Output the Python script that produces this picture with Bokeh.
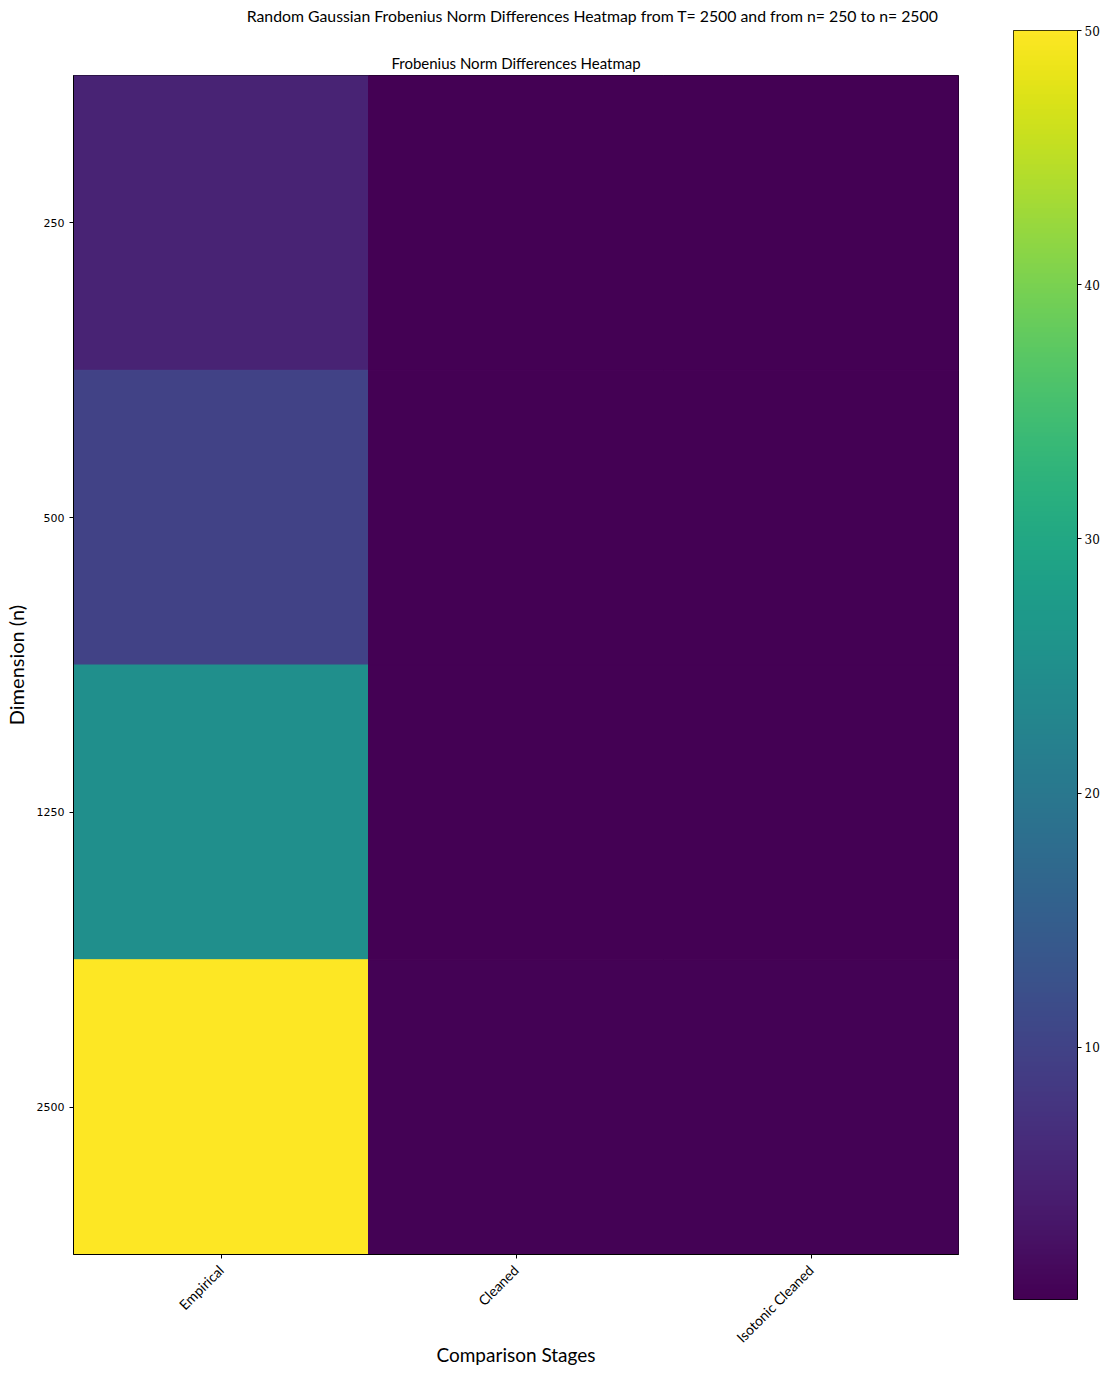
import numpy as np
from bokeh.plotting import figure
from bokeh.layouts import row, column
from bokeh.models import (FactorRange, Range1d, LinearColorMapper, Title,
                          FixedTicker, LinearAxis, ColumnDataSource)
from bokeh.core.properties import value
from bokeh.palettes import Viridis256
from bokeh.embed import file_html
from bokeh.resources import INLINE

# ---- data ----
stages = ["Empirical", "Cleaned", "Isotonic Cleaned"]
dims = ["250", "500", "1250", "2500"]
empirical = [5.0, 10.0, 25.0, 50.0]
cleaned = [0.08, 0.12, 0.2, 0.3]
isotonic = [0.08, 0.12, 0.2, 0.3]
cbar_ticks = [10, 20, 30, 40, 50]
suptitle = "Random Gaussian Frobenius Norm Differences Heatmap from T= 2500 and from n= 250 to n= 2500"
subtitle = "Frobenius Norm Differences Heatmap"

vals = {"Empirical": empirical, "Cleaned": cleaned, "Isotonic Cleaned": isotonic}
xs, ys, vs = [], [], []
for s in stages:
    for d, v in zip(dims, vals[s]):
        xs.append(s); ys.append(d); vs.append(v)
src = ColumnDataSource(dict(x=xs, y=ys, v=vs))

vmin = min(vs); vmax = max(vs)
mapper = LinearColorMapper(palette=Viridis256, low=vmin, high=vmax)

SANS = "Lato"

# ---- suptitle strip ----
t = figure(width=995, height=31, output_backend="svg", toolbar_location=None,
           x_range=Range1d(0, 995), y_range=Range1d(0, 31), min_border=0)
t.frame_width = 995
t.frame_height = 31
t.frame_align = False
t.axis.visible = False
t.grid.visible = False
t.outline_line_color = None
t.text(x=[592], y=[16], text=[suptitle], text_align="center", text_baseline="middle",
       text_font=value(SANS), text_font_size="15.8px", text_color="black")

# ---- heatmap ----
p = figure(width=995, height=1330, output_backend="svg", toolbar_location=None,
           x_range=FactorRange(*stages), y_range=FactorRange(*reversed(dims)),
           min_border_left=67, min_border_top=44, min_border_right=44, min_border_bottom=60)
p.frame_width = 885
p.frame_height = 1179
p.frame_align = False
p.rect(x="x", y="y", width=1, height=1, source=src,
       fill_color={"field": "v", "transform": mapper},
       line_color={"field": "v", "transform": mapper}, line_width=1)

p.outline_line_color = "black"
p.outline_line_width = 1
p.xgrid.visible = False
p.ygrid.visible = False
p.x_range.range_padding = 0
p.y_range.range_padding = 0

for ax in (p.xaxis[0], p.yaxis[0]):
    ax.major_tick_in = 0
    ax.major_tick_out = 4
    ax.major_tick_line_color = "black"
    ax.axis_line_color = "black"
    ax.major_label_text_color = "black"
    ax.axis_label_text_font_style = "normal"
    ax.axis_label_text_color = "black"

p.xaxis.major_label_orientation = np.pi / 4
p.xaxis.major_label_text_font = SANS
p.xaxis.major_label_text_font_size = "14px"
p.xaxis.major_label_standoff = 9
p.xaxis.axis_label = "Comparison Stages"
p.xaxis.axis_label_text_font = SANS
p.xaxis.axis_label_text_font_size = "19px"
p.xaxis.axis_label_standoff = -12

p.yaxis.major_label_text_font = "DejaVu Sans"
p.yaxis.major_label_text_font_size = "11px"
p.yaxis.axis_label = "Dimension (n)"
p.yaxis.axis_label_text_font = SANS
p.yaxis.axis_label_text_font_size = "20px"
p.yaxis.axis_label_standoff = 6

sub = Title(text=subtitle, align="center",
            text_font=SANS, text_font_size="15px", text_font_style="normal",
            text_color="black", standoff=8)
p.add_layout(sub, "above")

# ---- colorbar figure ----
c = figure(width=100, height=1310, output_backend="svg", toolbar_location=None,
           x_range=Range1d(0, 1), y_range=Range1d(vmin, vmax),
           min_border_left=11, min_border_top=30, min_border_right=25, min_border_bottom=11)
c.frame_width = 64
c.frame_height = 1269
c.frame_align = False
grad = np.linspace(vmin, vmax, 512).reshape(-1, 1)
c.image(image=[grad], x=0, y=vmin, dw=1, dh=vmax - vmin, color_mapper=mapper)
c.xaxis.visible = False
c.yaxis.visible = False
c.xgrid.visible = False
c.ygrid.visible = False
c.outline_line_color = "black"
cax = LinearAxis(ticker=FixedTicker(ticks=cbar_ticks))
cax.major_tick_in = 0
cax.major_tick_out = 4
cax.minor_tick_out = 0
cax.minor_tick_in = 0
cax.axis_line_color = "black"
cax.major_label_text_font = "DejaVu Serif"
cax.major_label_text_font_size = "12px"
cax.major_label_text_color = "black"
cax.major_label_standoff = 3
c.add_layout(cax, "right")

layout = row(column(t, p), c)
open("out.html", "w").write(file_html(layout, INLINE))
